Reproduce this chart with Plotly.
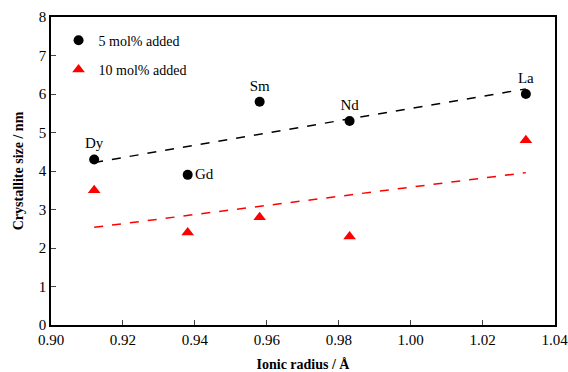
import numpy as np
import plotly.graph_objects as go

ionic_radius = [0.912, 0.938, 0.958, 0.983, 1.032]
elements = ["Dy", "Gd", "Sm", "Nd", "La"]
size_5mol = [4.3, 3.9, 5.8, 5.3, 6.0]
size_10mol = [3.5, 2.4, 2.8, 2.3, 4.8]
label_pos = ["top center", "middle right", "top center", "top center", "top center"]
x_ticks = [0.90, 0.92, 0.94, 0.96, 0.98, 1.00, 1.02, 1.04]
x_ticklabels = ["0.90", "0.92", "0.94", "0.96", "0.98", "1.00", "1.02", "1.04"]

x_ends = [min(ionic_radius), max(ionic_radius)]
p5 = np.polyfit(ionic_radius, size_5mol, 1)
p10 = np.polyfit(ionic_radius, size_10mol, 1)

font = "Liberation Serif"
tickfont = dict(family=font, size=15, color="black")
fig = go.Figure()
fig.add_trace(go.Scatter(x=x_ends, y=np.polyval(p5, x_ends), mode="lines",
                         line=dict(color="black", dash="dash", width=1.5), showlegend=False, hoverinfo="skip"))
fig.add_trace(go.Scatter(x=x_ends, y=np.polyval(p10, x_ends), mode="lines",
                         line=dict(color="red", dash="dash", width=1.5), showlegend=False, hoverinfo="skip"))
fig.add_trace(go.Scatter(x=ionic_radius, y=size_5mol, mode="markers+text", name="5 mol% added",
                         legendgroup="a",
                         marker=dict(color="black", size=10, symbol="circle"),
                         text=elements, textposition=label_pos,
                         textfont=dict(family=font, size=15, color="black")))
fig.add_trace(go.Scatter(x=ionic_radius, y=size_10mol, mode="markers", name="10 mol% added",
                         legendgroup="b",
                         marker=dict(color="red", size=11, symbol="triangle-up")))

fig.update_layout(
    width=568, height=372,
    margin=dict(l=51, r=13, t=17, b=47),
    paper_bgcolor="white", plot_bgcolor="white",
    font=dict(family=font, size=14, color="black"),
    legend=dict(x=0.015, y=0.975, xanchor="left", yanchor="top", bgcolor="rgba(0,0,0,0)",
                font=dict(family=font, size=14), itemwidth=30, tracegroupgap=8,
                traceorder="grouped"),
    xaxis=dict(range=[0.90, 1.0401], tickvals=x_ticks, ticktext=x_ticklabels, ticks="inside", ticklen=5,
               tickfont=tickfont, ticklabeloverflow="allow",
               showline=True, linecolor="black", linewidth=1.5, mirror=True, showgrid=False, zeroline=False,
               automargin=False,
               title=dict(text="<b>Ionic radius / Å</b>", font=dict(family=font, size=14), standoff=14)),
    yaxis=dict(range=[0, 8], dtick=1, ticks="inside", ticklen=5,
               tickfont=tickfont,
               showline=True, linecolor="black", linewidth=1.5, mirror=True, showgrid=False, zeroline=False,
               automargin=False,
               title=dict(text="<b>Crystallite size / nm</b>", font=dict(family=font, size=14), standoff=12)),
)
fig.write_html("out.html", config={"displayModeBar": False},
               post_script="document.body.style.margin='0';document.body.style.padding='0';")
